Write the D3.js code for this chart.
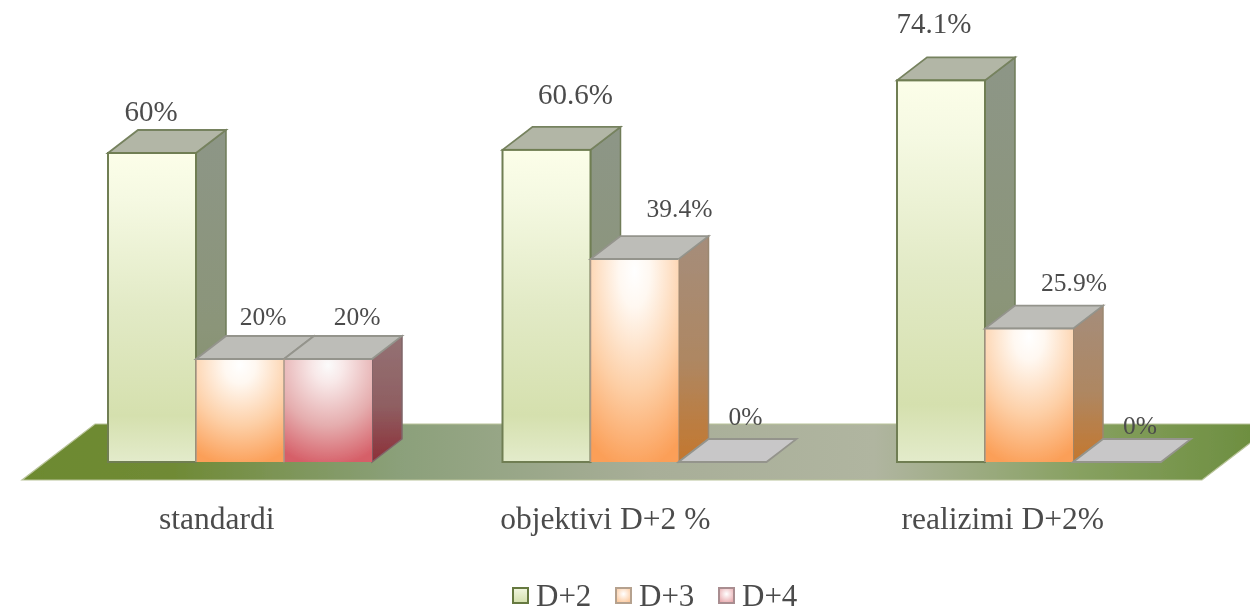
<!DOCTYPE html>
<html><head><meta charset="utf-8">
<script src="https://cdn.jsdelivr.net/npm/d3@7"></script>
<style>html,body{margin:0;padding:0;background:#fff}svg{display:block}text{font-family:"Liberation Serif",serif;fill:#4c4c4c}</style>
</head><body><svg id="c" width="1250" height="612"></svg>
<script>
const categories = ["standardi", "objektivi D+2 %", "realizimi D+2%"];
const seriesNames = ["D+2", "D+3", "D+4"];
const d2Values = [60, 60.6, 74.1];
const d3Values = [20, 39.4, 25.9];
const d4Values = [20, 0, 0];
const d2Labels = ["60%", "60.6%", "74.1%"];
const d3Labels = ["20%", "39.4%", "25.9%"];
const d4Labels = ["20%", "0%", "0%"];

const seriesValues = [d2Values, d3Values, d4Values];
const seriesLabels = [d2Labels, d3Labels, d4Labels];

const svg = d3.select("#c");
const defs = svg.append("defs");
const baseY = 462;
const depthX = 30, depthY = -23;
const y = d3.scaleLinear().domain([0, 100]).range([baseY, baseY - 515]);
const x0 = d3.scaleBand().domain(categories).range([42.5, 42.5 + 3 * 394.5]);
const x1 = d3.scaleBand().domain(seriesNames).range([65.5, 65.5 + 264]);

const blur = defs.append("filter").attr("id", "soft").attr("x", "-5%").attr("y", "-5%").attr("width", "110%").attr("height", "110%");
blur.append("feGaussianBlur").attr("stdDeviation", 0.6);

function grad(id, kind, stops, attrs) {
  const g = defs.append(kind).attr("id", id);
  Object.entries(attrs).forEach(([k, v]) => g.attr(k, v));
  stops.forEach(([o, c]) => g.append("stop").attr("offset", o).attr("stop-color", c));
}
const vert = {x1: 0, y1: 0, x2: 0, y2: 1};
const glow = {cx: 0.5, cy: 0.06, r: 0.98, fx: 0.5, fy: 0.06};
grad("front0", "linearGradient", [[0, "#fcfee9"], [0.15, "#f5f9e2"], [0.5, "#e2eac6"], [0.85, "#d5e0ae"], [1, "#e3ebcb"]], vert);
grad("front1", "radialGradient", [[0, "#ffffff"], [0.18, "#fff8f1"], [0.6, "#fdcfa6"], [1, "#fb9f58"]], glow);
grad("front2", "radialGradient", [[0, "#fbfbfb"], [0.18, "#f8e8e8"], [0.6, "#e5adae"], [1, "#d65f68"]], glow);
grad("side0", "linearGradient", [[0, "#8d9687"], [0.6, "#8b9579"], [1, "#7f8c63"]], vert);
grad("side1", "linearGradient", [[0, "#a58d7b"], [0.55, "#ae8762"], [1, "#c4772e"]], vert);
grad("side2", "linearGradient", [[0, "#947274"], [0.55, "#8f5f62"], [1, "#8d2f38"]], vert);
grad("floor", "linearGradient", [[0, "#6d8a2f"], [0.12, "#6f8a35"], [0.3, "#8ba07a"], [0.5, "#a8ae98"], [0.68, "#b0b5a0"], [0.85, "#86a05f"], [1, "#6a8c3c"]], {x1: 0, y1: 0, x2: 1, y2: 0});
grad("sw0", "linearGradient", [[0, "#f2f7e0"], [1, "#d3dfac"]], vert);
grad("sw1", "radialGradient", [[0, "#ffffff"], [1, "#fcc79a"]], {cx: 0.5, cy: 0.4, r: 0.65});
grad("sw2", "radialGradient", [[0, "#ffffff"], [1, "#e8a8ac"]], {cx: 0.5, cy: 0.4, r: 0.65});

const root = svg.append("g").attr("filter", "url(#soft)");
const line = d3.line();
const sideStrokes = ["#6f7c58", "#9a8872", "#80656a"];

root.append("path")
  .attr("d", line([[22, 480], [1202, 480], [1275, 424], [95, 424]]) + "Z")
  .attr("fill", "url(#floor)").attr("stroke", "#b9c49a").attr("stroke-width", 1.2);

const bars = [];
categories.forEach((cat, c) => seriesNames.forEach((s, i) => {
  bars.push({cat, c, s, i, v: seriesValues[i][c], label: seriesLabels[i][c]});
}));
root.selectAll("g.bar").data(bars).join("g").attr("class", "bar").each(function (d) {
  const g = d3.select(this);
  const xl = x0(d.cat) + x1(d.s), w = x1.bandwidth(), yt = y(d.v);
  if (d.v > 0) {
    g.append("path").attr("d", line([[xl + w, yt], [xl + w + depthX, yt + depthY], [xl + w + depthX, baseY + depthY], [xl + w, baseY]]) + "Z")
      .attr("fill", `url(#side${d.i})`).attr("stroke", sideStrokes[d.i]).attr("stroke-width", 1.5);
  }
  g.append("path").attr("d", line([[xl, yt], [xl + depthX, yt + depthY], [xl + w + depthX, yt + depthY], [xl + w, yt]]) + "Z")
    .attr("fill", d.v > 0 ? (d.i === 0 ? "#b2b6a6" : "#bdbdb8") : "#c8c7c8")
    .attr("stroke", d.i === 0 ? "#76825e" : "#94948c").attr("stroke-width", 1.8);
  if (d.v > 0) {
    g.append("rect").attr("x", xl).attr("y", yt).attr("width", w).attr("height", baseY - yt)
      .attr("fill", `url(#front${d.i})`)
      .attr("stroke", d.i === 0 ? "#6f7e52" : "none").attr("stroke-width", 2);
    if (d.i > 0) {
      g.append("path").attr("d", line([[xl, yt], [xl + w, yt]])).attr("stroke", "#94948c").attr("stroke-width", 2);
      g.append("path").attr("d", line([[xl, yt], [xl, baseY]])).attr("stroke", "#a89888").attr("stroke-width", 1.5);
    }
  }
});

const labelDx = [[-1, 29, -7], [23, 45, 45], [29, 23, 23]];
const labelDy = [[-32, -46, -47], [-34, -42, -38], [-34, -37, -28]];
root.selectAll("text.val").data(bars).join("text").attr("class", "val")
  .attr("x", d => x0(d.cat) + x1(d.s) + x1.bandwidth() / 2 + labelDx[d.i][d.c])
  .attr("y", d => y(d.v) + labelDy[d.i][d.c])
  .attr("text-anchor", "middle").attr("font-size", d => d.i === 0 ? 29 : 25.5).text(d => d.label);

const catDx = [-23, -29, -26];
root.selectAll("text.cat").data(categories).join("text").attr("class", "cat")
  .attr("x", (d, i) => x0(d) + x0.bandwidth() / 2 + catDx[i]).attr("y", 529)
  .attr("text-anchor", "middle").attr("font-size", 31.5).text(d => d);

const legX = d3.scalePoint().domain(seriesNames).range([512, 718]);
const leg = root.selectAll("g.leg").data(seriesNames).join("g").attr("class", "leg")
  .attr("transform", d => `translate(${legX(d)},0)`);
leg.append("rect").attr("x", 1).attr("y", 588).attr("width", 15).attr("height", 15)
  .attr("fill", (d, i) => `url(#sw${i})`)
  .attr("stroke", (d, i) => ["#66793f", "#b5a18e", "#a98d90"][i]).attr("stroke-width", 2);
leg.append("text").attr("x", 24).attr("y", 606).attr("font-size", 31).text(d => d);
</script></body></html>
